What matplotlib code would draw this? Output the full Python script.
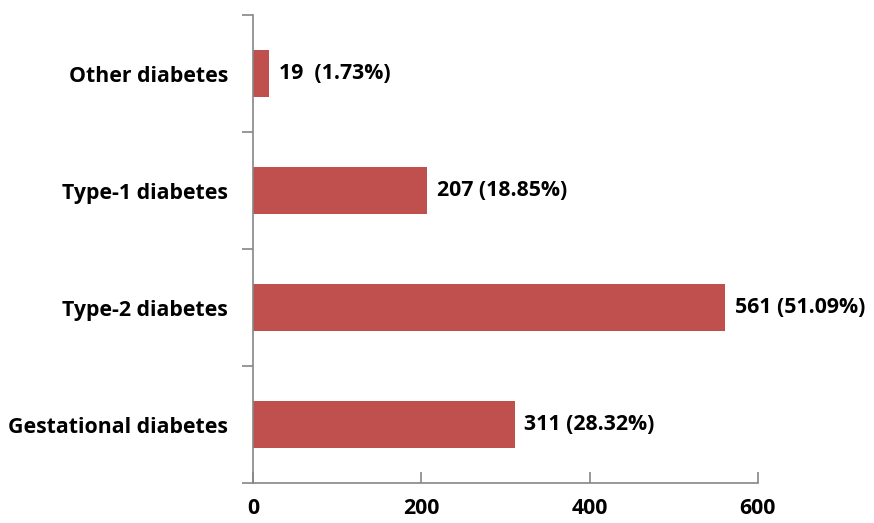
import matplotlib.pyplot as plt
import numpy as np

categories = ["Gestational diabetes", "Type-2 diabetes", "Type-1 diabetes", "Other diabetes"]
counts = [311, 561, 207, 19]
labels = ["311 (28.32%)", "561 (51.09%)", "207 (18.85%)", "19  (1.73%)"]
xticks = [0, 200, 400, 600]

plt.rcParams['font.family'] = ['Open Sans', 'DejaVu Sans']
plt.rcParams['font.weight'] = 'bold'
FS = 15.3

fig = plt.figure(figsize=(8.74, 5.23), dpi=100)
ax = fig.add_axes([0.2895, 0.0765, 0.5775, 0.8945])

ypos = np.arange(len(categories))
ax.barh(ypos, counts, height=0.4, color='#C0504D')

for y, v, lab in zip(ypos, counts, labels):
    ax.annotate(lab, (v, y), xytext=(7, 0), textcoords='offset points',
                va='center', ha='left', fontsize=FS, fontweight='bold')

ax.set_xlim(0, 600)
ax.set_ylim(-0.5, len(categories) - 0.5)
ax.set_xticks(xticks)
ax.set_xticklabels([str(t) for t in xticks], fontsize=FS, fontweight='bold')
ax.set_yticks(ypos)
ax.set_yticklabels(categories, fontsize=FS, fontweight='bold')
ax.set_yticks(np.arange(len(categories) + 1) - 0.5, minor=True)

for s in ['top', 'right']:
    ax.spines[s].set_visible(False)
for s in ['left', 'bottom']:
    ax.spines[s].set_color('#868686')
    ax.spines[s].set_linewidth(1.2)

ax.tick_params(axis='y', which='major', length=0, pad=18)
ax.tick_params(axis='y', which='minor', length=8, color='#868686', width=1.2, direction='out')
ax.tick_params(axis='x', length=8, color='#868686', width=1.2, direction='in', pad=11)

fig.savefig("out.png", dpi=100)
